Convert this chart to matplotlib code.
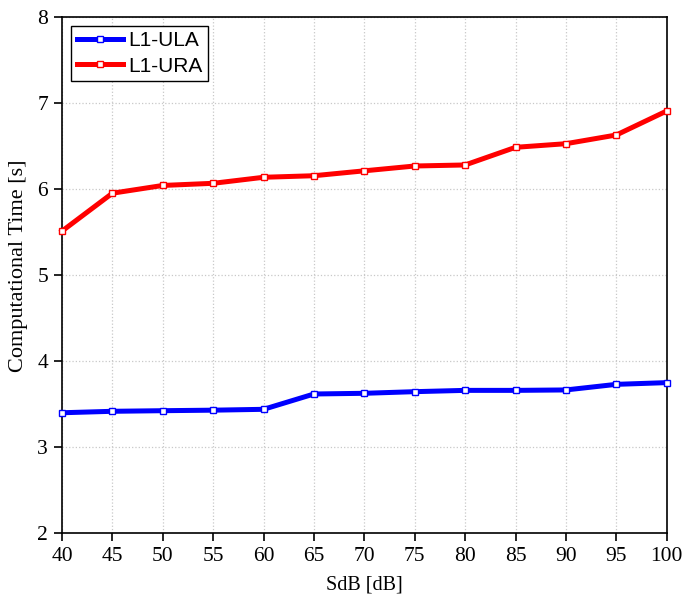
import matplotlib
matplotlib.use("Agg")
import matplotlib.pyplot as plt

sdb = [40, 45, 50, 55, 60, 65, 70, 75, 80, 85, 90, 95, 100]
ula = [3.40, 3.417, 3.424, 3.43, 3.44, 3.618, 3.626, 3.645, 3.66, 3.66, 3.665, 3.73, 3.75]
ura = [5.51, 5.95, 6.04, 6.065, 6.135, 6.153, 6.21, 6.266, 6.278, 6.483, 6.525, 6.626, 6.905]
xticks = [40, 45, 50, 55, 60, 65, 70, 75, 80, 85, 90, 95, 100]
yticks = [2, 3, 4, 5, 6, 7, 8]

plt.rcParams['font.family'] = ['Liberation Serif', 'DejaVu Serif']

fig = plt.figure(figsize=(6.83, 6.02), dpi=100)
ax = fig.add_axes([62/683, 1-533.3/602, (666.7-62)/683, (533.3-16.7)/602])

ax.plot(sdb, ula, color='#0000ff', lw=3.6, marker='s', ms=4.5, mfc='white',
        mec='#0000ff', mew=1.0, label='L1-ULA', clip_on=False, zorder=3)
ax.plot(sdb, ura, color='#ff0000', lw=3.6, marker='s', ms=4.5, mfc='white',
        mec='#ff0000', mew=1.0, label='L1-URA', clip_on=False, zorder=3)

ax.set_xlim(40, 100)
ax.set_ylim(2, 8)
ax.set_xticks(xticks)
ax.set_yticks(yticks)
ax.tick_params(axis='both', direction='out', length=6, width=1.2, labelsize=15.5,
               top=False, right=False, pad=4)
ax.grid(True, linestyle=':', color='#c8c8c8', linewidth=0.9)
for s in ax.spines.values():
    s.set_linewidth(1.2)
ax.set_xlabel('SdB [dB]', fontsize=14.5, labelpad=7)
ax.set_ylabel('Computational Time [s]', fontsize=16)
ax.yaxis.set_label_coords(-0.057, 0.518)

leg = ax.legend(loc='upper left', fancybox=False, edgecolor='black', framealpha=1,
                prop={'family': 'Liberation Sans', 'size': 15}, handlelength=2.25,
                borderaxespad=0.45, borderpad=0.25, labelspacing=0.3, handletextpad=0.25)
leg.get_frame().set_linewidth(1.0)

fig.savefig('out.png', dpi=100)
